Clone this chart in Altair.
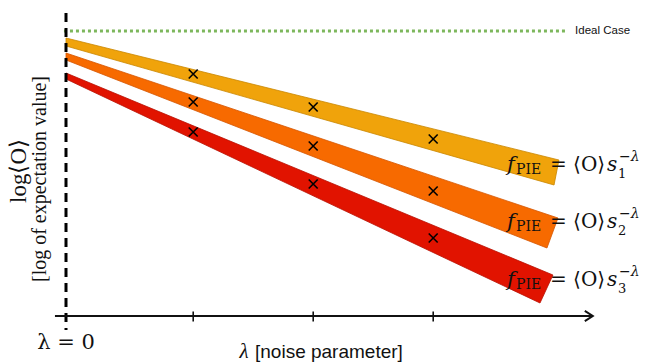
import altair as alt
import pandas as pd

# ---- chart values -------------------------------------------------------
# lambda positions of the measured noise levels (also the x ticks)
lam_ticks = [1.06, 2.06, 3.06]

band_names = ["s1", "s2", "s3"]
band_fill = ["#F0A30B", "#F76A00", "#E11300"]
band_edge = ["#C98600", "#D45600", "#B80F00"]

# extrapolation bands: value of upper/lower edge at lambda = 0 and at the far end
band_upper_start = [2.78, 2.63, 2.43]
band_lower_start = [2.70, 2.56, 2.37]
band_upper_end = [1.56, 0.98, 0.41]
band_lower_end = [1.31, 0.68, 0.13]
band_lam_upper_end = [4.108, 4.100, 4.058]
band_lam_lower_end = [4.067, 4.008, 3.950]

# measured log expectation values at each noise level
marker_s1 = [2.42, 2.09, 1.77]
marker_s2 = [2.14, 1.70, 1.25]
marker_s3 = [1.84, 1.32, 0.78]

ideal_value = 2.85
ideal_lam = [-0.017, 4.158]
label_base = [1.45, 0.88, 0.30]
label_sub = ["1", "2", "3"]
label_lam = 3.675

# ---- scales ---------------------------------------------------------------
xs = alt.Scale(domain=[-0.55, 4.9083], nice=False, zero=False)
ys = alt.Scale(domain=[-0.46, 3.16], nice=False, zero=False)


def X(field="lam"):
    return alt.X(f"{field}:Q", scale=xs, axis=None)


def Y(field="v"):
    return alt.Y(f"{field}:Q", scale=ys, axis=None)


layers = []

# ideal case reference line
ideal_df = pd.DataFrame({"lam": [ideal_lam[0]], "lam2": [ideal_lam[1]], "v": [ideal_value]})
layers.append(
    alt.Chart(ideal_df)
    .mark_rule(color="#7DB75C", strokeWidth=3, strokeDash=[3, 3])
    .encode(x=X(), x2="lam2:Q", y=Y())
)
layers.append(
    alt.Chart(pd.DataFrame({"lam": [4.242], "v": [ideal_value], "t": ["Ideal Case"]}))
    .mark_text(align="left", baseline="middle", font="Liberation Sans", fontSize=11.5, color="#111")
    .encode(x=X(), y=Y(), text="t:N")
)

# extrapolation bands as closed polygons
for i, name in enumerate(band_names):
    poly = pd.DataFrame(
        {
            "lam": [0.0, band_lam_upper_end[i], band_lam_lower_end[i], 0.0, 0.0],
            "v": [band_upper_start[i], band_upper_end[i], band_lower_end[i], band_lower_start[i], band_upper_start[i]],
            "k": [0, 1, 2, 3, 4],
        }
    )
    layers.append(
        alt.Chart(poly)
        .mark_line(fill=band_fill[i], stroke=band_edge[i], strokeWidth=0.8, strokeJoin="miter")
        .encode(x=X(), y=Y(), order="k:Q")
    )

# measured points
pts = pd.DataFrame(
    {
        "lam": lam_ticks * 3,
        "v": marker_s1 + marker_s2 + marker_s3,
    }
)
layers.append(
    alt.Chart(pts)
    .mark_point(shape="M-1,-1L1,1M-1,1L1,-1", size=80, filled=False, color="black", strokeWidth=1.6, opacity=1)
    .encode(x=X(), y=Y())
)

# lambda = 0 dashed marker
layers.append(
    alt.Chart(pd.DataFrame({"lam": [0.0], "v": [3.03], "v2": [-0.14]}))
    .mark_rule(color="black", strokeWidth=3, strokeDash=[9, 6])
    .encode(x=X(), y=Y(), y2="v2:Q")
)

# x axis with arrow and ticks
layers.append(
    alt.Chart(pd.DataFrame({"lam": [-0.092], "lam2": [4.385], "v": [0.0]}))
    .mark_rule(color="#111", strokeWidth=2)
    .encode(x=X(), x2="lam2:Q", y=Y())
)
layers.append(
    alt.Chart(pd.DataFrame({"lam": [4.39], "v": [0.0]}))
    .mark_point(shape="M-1,-0.65L0,0L-1,0.65", size=256, filled=False, color="#111", strokeWidth=2, opacity=1)
    .encode(x=X(), y=Y())
)
layers.append(
    alt.Chart(pd.DataFrame({"lam": lam_ticks, "v": [0.045] * 3, "v2": [-0.055] * 3}))
    .mark_rule(color="#111", strokeWidth=1.6)
    .encode(x=X(), y=Y(), y2="v2:Q")
)

# axis texts
layers.append(
    alt.Chart(pd.DataFrame({"lam": [0.0], "v": [-0.27], "t": ["λ = 0"]}))
    .mark_text(align="center", baseline="middle", font="DejaVu Serif", fontSize=21, color="#111")
    .encode(x=X(), y=Y(), text="t:N")
)
layers.append(
    alt.Chart(pd.DataFrame({"lam": [1.483], "v": [-0.36], "t": ["λ"]}))
    .mark_text(align="center", baseline="middle", font="Liberation Serif", fontStyle="italic", fontSize=21, color="#111")
    .encode(x=X(), y=Y(), text="t:N")
)
layers.append(
    alt.Chart(pd.DataFrame({"lam": [1.575], "v": [-0.36], "t": ["[noise parameter]"]}))
    .mark_text(align="left", baseline="middle", font="Liberation Sans", fontSize=19, color="#111")
    .encode(x=X(), y=Y(), text="t:N")
)
layers.append(
    alt.Chart(pd.DataFrame({"lam": [-0.392], "v": [1.45], "t": ["log⟨O⟩"]}))
    .mark_text(align="center", baseline="middle", angle=270, font="Liberation Serif", fontSize=23, color="#111")
    .encode(x=X(), y=Y(), text="t:N")
)
layers.append(
    alt.Chart(pd.DataFrame({"lam": [-0.217], "v": [1.37], "t": ["[log of expectation value]"]}))
    .mark_text(align="center", baseline="middle", angle=270, font="Liberation Serif", fontSize=20, color="#111")
    .encode(x=X(), y=Y(), text="t:N")
)

# f_PIE = <O> s_k^{-lambda} labels, built from pieces
lab = pd.DataFrame({"lam": [label_lam] * 3, "v": label_base, "sub": label_sub})
base = alt.Chart(lab).encode(x=X(), y=Y())
serif = dict(font="DejaVu Serif", color="#111", align="left", baseline="alphabetic")
layers.append(base.mark_text(text="f", fontStyle="italic", fontSize=21, dx=0, **serif))
layers.append(base.mark_text(text="PIE", fontSize=14, dx=9, dy=3, **serif))
layers.append(base.mark_text(text="= ⟨O⟩", fontSize=20, dx=43, **serif))
layers.append(base.mark_text(text="s", fontStyle="italic", fontSize=20, dx=100, **serif))
layers.append(base.mark_text(fontSize=13, dx=111, dy=7, **serif).encode(text="sub:N"))
layers.append(base.mark_text(text="−λ", fontStyle="italic", fontSize=14, dx=112, dy=-10, **serif))

chart = (
    alt.layer(*layers)
    .properties(width=655, height=362, padding=0, autosize=alt.AutoSizeParams(type="none"))
    .configure_view(stroke=None)
)

chart.save("out.html", embed_options={"renderer": "svg", "actions": False})
